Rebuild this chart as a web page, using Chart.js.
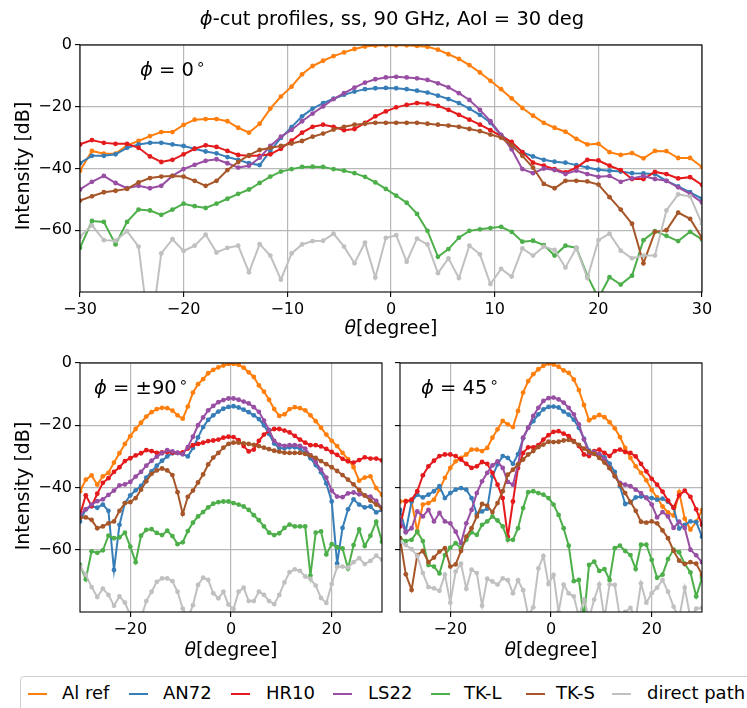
<!DOCTYPE html>
<html>
<head>
<meta charset="utf-8">
<script src="https://cdn.jsdelivr.net/npm/chart.js@4"></script>
<style>
  body { margin: 0; background: #fff; font-family: 'DejaVu Sans', sans-serif; }
  #wrap { position: relative; width: 747px; height: 708px; overflow: hidden; }
  canvas { position: absolute; }
  .t { position: absolute; white-space: nowrap; color: #000; z-index: 5; line-height: 1; }
  .ylab { font-size: 19px; transform: translate(-50%, -50%) rotate(-90deg); }
  .xlab { font-size: 19px; transform: translate(-50%, -50%); }
  .note { font-size: 19.5px; transform: translateY(-50%); }
  sup { font-size: 15px; vertical-align: 7px; margin-left: 2px; }
  #legend { position: absolute; left: 20px; top: 676px; width: 760px; height: 60px;
            border: 1px solid #d0d0d0; border-radius: 4px; z-index: 5; }
  .lh { position: absolute; top: 16px; height: 2px; width: 19px; }
  .lt { position: absolute; top: 7px; font-size: 18px; line-height: 1; }
</style>
</head>
<body>
<div id="wrap">
  <canvas id="cTop" width="747" height="340" style="left:0;top:0"></canvas>
  <canvas id="c90" width="400" height="340" style="left:0;top:320px"></canvas>
  <canvas id="c45" width="357" height="340" style="left:390px;top:320px"></canvas>

  <div class="t" style="left:392px;top:9px;font-size:19.5px;transform:translateX(-50%)"><i>ϕ</i>-cut profiles, ss, 90 GHz, AoI = 30 deg</div>
  <div class="t ylab" style="left:22px;top:166px">Intensity [dB]</div>
  <div class="t ylab" style="left:22px;top:486px">Intensity [dB]</div>
  <div class="t xlab" style="left:391px;top:327px"><i>θ</i>[degree]</div>
  <div class="t xlab" style="left:231px;top:649px"><i>θ</i>[degree]</div>
  <div class="t xlab" style="left:551px;top:649px"><i>θ</i>[degree]</div>
  <div class="t note" style="left:140px;top:68px"><i>ϕ</i> = 0<sup>∘</sup></div>
  <div class="t note" style="left:94px;top:386px"><i>ϕ</i> = ±90<sup>∘</sup></div>
  <div class="t note" style="left:421px;top:386px"><i>ϕ</i> = 45<sup>∘</sup></div>

  <div id="legend"></div>
</div>
<script>
// scan angles (degree)
const theta = [-30.00, -28.85, -27.70, -26.57, -25.46, -24.35, -23.25, -22.16, -21.08, -20.01,
  -18.94, -17.88, -16.83, -15.78, -14.74, -13.70, -12.67, -11.64, -10.62, -9.59,
  -8.58, -7.56, -6.55, -5.54, -4.53, -3.52, -2.51, -1.51, -0.50, 0.50,
  1.51, 2.51, 3.52, 4.53, 5.54, 6.55, 7.56, 8.58, 9.59, 10.62,
  11.64, 12.67, 13.70, 14.74, 15.78, 16.83, 17.88, 18.94, 20.01, 21.08,
  22.16, 23.25, 24.35, 25.46, 26.57, 27.70, 28.85, 30.00];

const xTicksTop = [-30, -20, -10, 0, 10, 20, 30];
const xTicksBottom = [-20, 0, 20];
const yTicks = [-60, -40, -20, 0];

const seriesNames = ['Al ref', 'AN72', 'HR10', 'LS22', 'TK-L', 'TK-S', 'direct path'];
const seriesColors = ['#ff7f0e', '#377eb8', '#e41a1c', '#984ea3', '#4daf4a', '#a65628', '#c0c0c0'];

// phi = 0
const alRef_0 = [-40.7, -34.3, -35.2, -35.2, -32.5, -31.1, -29.5, -28.2, -28.2, -25.9,
  -24.2, -24.0, -24.0, -24.7, -26.8, -28.4, -25.5, -20.6, -16.7, -13.5,
  -9.5, -6.8, -5.1, -3.6, -2.4, -1.3, -0.5, -0.2, -0.1, -0.1,
  -0.1, -0.3, -0.6, -1.5, -3.0, -4.5, -6.5, -8.9, -11.6, -14.3,
  -17.3, -20.4, -22.9, -25.2, -26.8, -28.1, -30.4, -32.2, -32.0, -34.7,
  -35.6, -35.0, -36.7, -34.3, -34.4, -36.6, -36.6, -39.5];
const an72_0 = [-38.3, -35.9, -35.9, -35.4, -33.3, -32.2, -31.7, -31.7, -32.2, -32.7,
  -33.6, -34.5, -35.1, -36.3, -37.2, -38.3, -38.9, -34.3, -30.1, -26.6,
  -23.1, -20.6, -18.8, -17.4, -16.1, -15.1, -14.3, -14.0, -13.9, -14.0,
  -14.3, -14.8, -15.4, -16.4, -17.5, -18.8, -20.6, -22.6, -25.2, -29.2,
  -31.7, -34.7, -36.1, -37.2, -37.8, -38.1, -38.9, -39.7, -40.4, -40.7,
  -41.0, -41.5, -41.6, -41.8, -44.0, -45.8, -47.7, -49.8];
const hr10_0 = [-32.2, -30.8, -31.7, -32.0, -32.0, -33.3, -36.1, -37.9, -37.2, -35.4,
  -33.6, -32.5, -33.0, -34.3, -35.6, -35.9, -35.9, -35.4, -33.6, -31.0,
  -28.4, -26.5, -25.8, -26.5, -27.6, -27.2, -25.2, -23.1, -21.5, -20.2,
  -19.4, -18.8, -19.0, -19.7, -21.0, -22.6, -24.2, -25.8, -27.6, -29.5,
  -31.4, -34.7, -38.1, -39.1, -40.2, -41.3, -39.7, -37.2, -37.4, -39.1,
  -40.5, -43.4, -43.4, -41.1, -41.8, -43.2, -42.8, -45.3];
const ls22_0 = [-46.8, -44.3, -42.4, -44.7, -46.4, -45.6, -46.4, -45.6, -42.4, -40.2,
  -38.8, -37.5, -37.0, -38.3, -39.7, -39.1, -36.5, -32.7, -29.7, -27.5,
  -24.7, -22.2, -19.9, -17.5, -15.6, -13.8, -12.2, -11.1, -10.5, -10.3,
  -10.5, -10.8, -11.3, -12.4, -13.7, -15.6, -17.8, -21.0, -24.7, -29.1,
  -33.8, -40.2, -41.5, -40.0, -40.5, -41.8, -40.7, -41.8, -42.7, -42.4,
  -44.3, -43.2, -42.4, -43.4, -44.0, -46.1, -48.2, -51.0];
const tkL_0 = [-65.7, -57.0, -57.3, -64.6, -57.3, -53.3, -53.6, -55.0, -53.3, -51.4,
  -52.2, -52.8, -51.4, -49.8, -48.2, -46.8, -44.7, -42.6, -41.0, -40.2,
  -39.5, -39.4, -39.5, -40.2, -40.7, -41.5, -42.7, -44.5, -46.6, -48.8,
  -51.1, -54.7, -60.2, -68.6, -66.1, -62.4, -60.2, -59.7, -59.3, -58.9,
  -60.5, -63.7, -63.4, -64.8, -68.2, -65.0, -65.7, -74.7, -82.0, -75.2,
  -77.6, -74.7, -63.2, -60.3, -61.8, -63.5, -60.5, -63.0];
const tkS_0 = [-50.4, -49.0, -47.7, -47.2, -46.6, -44.5, -43.1, -42.6, -42.4, -42.6,
  -44.0, -45.6, -44.0, -40.5, -37.9, -35.7, -34.0, -33.3, -32.7, -31.9,
  -31.1, -29.7, -28.7, -27.4, -26.5, -25.8, -25.5, -25.2, -25.2, -25.2,
  -25.2, -25.2, -25.5, -25.8, -26.1, -26.5, -27.2, -27.9, -29.0, -30.0,
  -32.5, -35.9, -39.7, -45.0, -46.4, -44.0, -44.0, -44.2, -45.2, -49.3,
  -53.3, -57.9, -70.7, -60.5, -60.0, -54.3, -56.3, -62.5];
const direct_0 = [-62.1, -58.4, -63.2, -63.4, -60.3, -65.3, -95.0, -67.5, -62.9, -66.7,
  -65.0, -61.4, -67.2, -65.7, -65.0, -73.6, -64.5, -68.2, -76.0, -67.5,
  -64.6, -63.5, -63.4, -61.1, -65.3, -70.7, -64.0, -75.3, -62.5, -61.6,
  -70.2, -62.7, -64.6, -73.9, -69.1, -75.5, -65.0, -67.8, -77.4, -72.5,
  -75.0, -65.9, -68.2, -65.3, -66.4, -72.1, -65.7, -75.5, -63.2, -61.1,
  -66.6, -69.1, -68.2, -68.2, -53.6, -48.4, -49.0, -57.9];

// phi = +-90
const alRef_90 = [-41.2, -37.5, -36.1, -39.1, -36.4, -35.3, -32.0, -29.0, -26.0, -23.5,
  -21.2, -19.2, -17.2, -15.8, -14.8, -14.4, -14.5, -15.3, -16.8, -17.9,
  -14.0, -9.5, -6.8, -5.2, -3.3, -2.2, -1.4, -0.8, -0.3, -0.3,
  -0.6, -1.5, -3.0, -4.5, -7.2, -9.2, -11.8, -14.8, -17.0, -16.5,
  -14.8, -14.2, -14.5, -15.2, -16.8, -18.7, -20.8, -23.0, -25.0, -26.7,
  -28.9, -30.9, -33.5, -37.8, -36.8, -36.4, -40.2, -42.3];
const an72_90 = [-50.9, -47.0, -46.0, -46.5, -45.5, -47.5, -66.5, -52.0, -45.0, -42.5,
  -40.9, -39.5, -36.8, -34.8, -33.0, -31.4, -30.0, -29.0, -28.9, -29.3,
  -30.0, -27.3, -23.9, -20.6, -18.3, -16.8, -15.6, -14.7, -14.1, -13.9,
  -14.3, -15.0, -15.8, -16.8, -18.0, -20.0, -22.8, -25.9, -27.3, -27.4,
  -27.1, -27.1, -27.5, -28.9, -30.6, -32.8, -35.1, -38.7, -44.5, -64.4,
  -53.0, -47.0, -43.8, -45.5, -46.4, -46.1, -48.0, -47.2];
const hr10_90 = [-48.8, -42.5, -46.0, -42.0, -38.5, -37.0, -35.0, -33.5, -31.5, -30.6,
  -29.7, -29.0, -28.0, -28.3, -28.9, -28.7, -28.6, -28.8, -28.9, -28.7,
  -27.5, -26.4, -26.0, -25.6, -25.1, -24.9, -24.6, -24.0, -23.7, -23.8,
  -24.8, -26.7, -28.4, -27.8, -25.0, -23.0, -21.8, -21.2, -21.2, -21.7,
  -22.3, -23.4, -24.6, -25.6, -26.4, -26.4, -26.8, -27.6, -28.6, -29.5,
  -30.8, -31.6, -32.0, -31.2, -30.3, -30.7, -30.7, -31.3];
const ls22_90 = [-48.8, -47.0, -45.5, -44.4, -43.8, -42.4, -41.0, -39.3, -39.0, -38.2,
  -36.5, -35.0, -33.0, -31.4, -30.1, -29.0, -28.0, -28.4, -28.9, -29.3,
  -27.0, -23.7, -20.0, -17.5, -15.2, -13.8, -12.6, -11.9, -11.4, -11.4,
  -11.8, -12.4, -13.0, -14.2, -15.7, -18.5, -21.5, -25.0, -26.3, -26.6,
  -26.4, -26.4, -26.6, -27.5, -29.7, -31.8, -34.3, -36.8, -41.0, -42.9,
  -43.1, -41.9, -41.6, -42.2, -42.5, -42.9, -44.3, -46.6];
const tkL_90 = [-64.9, -69.5, -60.5, -61.0, -60.2, -55.5, -56.3, -56.0, -54.5, -59.0,
  -64.0, -55.5, -53.6, -53.4, -54.6, -55.3, -53.9, -55.6, -58.2, -57.6,
  -54.0, -51.3, -49.3, -47.9, -46.4, -45.2, -44.7, -44.5, -44.5, -45.0,
  -45.5, -46.1, -47.2, -48.9, -50.5, -52.5, -54.5, -55.3, -54.7, -53.0,
  -51.9, -52.5, -52.5, -52.5, -68.3, -54.5, -54.1, -61.5, -58.2, -59.2,
  -59.6, -66.0, -58.5, -53.5, -58.8, -55.5, -51.0, -57.4];
const tkS_90 = [-49.8, -49.6, -50.4, -53.1, -52.5, -51.5, -50.9, -47.5, -45.0, -44.7,
  -43.4, -40.7, -38.0, -35.6, -34.5, -33.9, -34.5, -36.0, -41.5, -48.5,
  -43.0, -41.0, -38.4, -35.8, -32.6, -30.4, -28.9, -27.2, -26.0, -25.6,
  -25.6, -25.8, -26.0, -26.3, -26.7, -27.2, -27.7, -28.2, -28.5, -28.8,
  -28.9, -28.9, -28.9, -29.2, -29.7, -30.5, -31.5, -32.5, -33.5, -34.7,
  -36.0, -37.5, -39.0, -40.8, -42.6, -44.2, -45.5, -46.8];
const direct_90 = [-65.4, -68.0, -72.0, -75.2, -72.5, -74.5, -78.0, -75.0, -77.0, -81.0,
  -84.0, -82.0, -76.5, -73.5, -70.3, -69.2, -69.2, -70.1, -73.5, -78.9,
  -82.0, -77.8, -71.3, -69.0, -69.7, -74.0, -75.6, -73.5, -77.6, -79.0,
  -73.5, -72.2, -76.5, -76.5, -73.5, -74.5, -76.5, -77.5, -74.5, -70.5,
  -67.2, -66.3, -66.8, -68.6, -69.4, -71.5, -75.5, -77.1, -71.0, -65.5,
  -65.4, -65.7, -64.0, -62.7, -64.6, -63.6, -61.9, -63.2];

// phi = 45
const alRef_45 = [-44.5, -44.3, -44.5, -54.0, -45.5, -45.0, -43.9, -40.7, -36.9, -33.7,
  -31.6, -30.5, -29.4, -27.8, -27.8, -28.3, -27.3, -24.0, -21.3, -18.6,
  -19.7, -20.6, -15.4, -9.5, -5.8, -3.6, -2.0, -0.9, -0.2, -0.5,
  -1.2, -2.4, -3.2, -5.3, -8.7, -13.5, -18.4, -17.5, -16.7, -17.4,
  -19.0, -21.0, -23.8, -27.3, -30.5, -33.2, -35.3, -37.7, -40.8, -43.2,
  -46.1, -48.0, -49.0, -41.5, -50.0, -53.5, -51.0, -47.3];
const an72_45 = [-47.2, -54.1, -44.5, -42.3, -43.2, -42.3, -41.2, -39.6, -43.4, -41.8,
  -40.7, -40.2, -40.7, -43.4, -48.5, -47.7, -46.8, -36.4, -32.6, -29.9,
  -30.5, -32.4, -29.3, -24.2, -20.8, -18.7, -16.5, -14.9, -14.1, -14.0,
  -14.3, -15.6, -16.6, -18.2, -20.8, -24.3, -28.2, -29.1, -29.4, -30.3,
  -32.3, -35.0, -39.6, -45.3, -44.8, -43.2, -42.9, -43.2, -43.4, -43.9,
  -43.6, -44.6, -46.5, -53.2, -52.0, -50.9, -51.1, -55.8];
const hr10_45 = [-52.5, -44.5, -43.9, -41.2, -36.1, -33.2, -31.4, -29.9, -29.4, -29.4,
  -29.9, -31.0, -32.4, -33.7, -33.2, -31.8, -32.4, -35.3, -39.1, -43.4,
  -55.8, -44.5, -33.7, -28.9, -27.1, -27.1, -26.4, -24.6, -23.2, -22.1,
  -21.9, -22.7, -23.5, -25.1, -26.7, -29.4, -29.9, -28.3, -27.8, -28.9,
  -29.9, -28.3, -27.8, -28.6, -28.9, -30.0, -32.4, -34.8, -37.2, -39.1,
  -41.3, -44.2, -46.5, -42.5, -41.0, -43.0, -47.0, -52.0];
const ls22_45 = [-50.4, -54.4, -53.1, -47.7, -49.3, -47.2, -50.9, -48.2, -50.9, -51.5,
  -54.2, -57.9, -51.5, -47.2, -41.8, -38.0, -35.3, -32.9, -31.6, -33.7,
  -38.2, -39.1, -32.7, -24.0, -20.8, -17.0, -14.4, -12.2, -11.3, -11.1,
  -11.7, -12.7, -14.4, -16.5, -19.7, -24.6, -28.9, -28.6, -29.4, -31.0,
  -33.7, -36.4, -38.5, -39.1, -39.6, -40.7, -41.8, -43.4, -45.5, -49.6,
  -47.9, -49.3, -53.0, -51.0, -53.0, -60.0, -61.8, -64.0];
const tkL_45 = [-56.3, -57.2, -56.8, -54.2, -57.2, -64.9, -65.4, -67.6, -61.7, -59.3,
  -57.9, -59.5, -56.8, -54.4, -55.2, -52.0, -50.9, -49.3, -50.6, -52.5,
  -56.8, -56.8, -53.1, -46.6, -41.5, -41.2, -41.8, -42.3, -43.4, -45.5,
  -48.8, -53.1, -58.7, -70.1, -69.7, -82.0, -64.9, -63.8, -66.8, -66.2,
  -69.7, -59.5, -58.7, -60.4, -61.7, -66.2, -58.4, -58.4, -63.3, -69.0,
  -68.0, -63.0, -60.0, -60.8, -64.5, -67.3, -75.0, -69.0];
const tkS_45 = [-56.3, -67.9, -72.9, -61.7, -60.4, -64.0, -62.5, -60.6, -59.5, -65.4,
  -64.7, -60.4, -55.8, -53.1, -49.3, -45.3, -45.8, -47.9, -45.0, -41.2,
  -35.9, -34.3, -32.6, -31.0, -29.4, -28.3, -27.0, -26.2, -25.3, -25.4,
  -25.3, -24.9, -24.7, -25.3, -26.3, -27.5, -28.5, -29.2, -30.5, -32.0,
  -33.8, -36.3, -39.1, -41.8, -44.6, -47.5, -51.0, -51.3, -50.9, -51.5,
  -53.8, -56.3, -60.3, -63.5, -64.6, -64.0, -64.5, -68.0];
const direct_45 = [-57.4, -58.5, -59.8, -62.0, -67.5, -72.0, -72.4, -73.2, -68.0, -77.0,
  -67.0, -64.5, -72.5, -66.4, -67.5, -78.0, -69.3, -70.2, -71.2, -69.2,
  -69.8, -74.0, -69.8, -73.0, -81.0, -78.5, -66.0, -62.0, -71.0, -68.1,
  -80.0, -71.2, -74.0, -75.0, -81.5, -76.0, -82.0, -76.0, -71.1, -82.0,
  -71.1, -71.3, -82.0, -80.0, -78.7, -82.0, -70.8, -77.0, -74.0, -72.2,
  -69.7, -73.5, -78.3, -82.0, -72.2, -82.0, -78.9, -78.7];

const FONT = "'DejaVu Sans', sans-serif";
const minus = v => v < 0 ? '\u2212' + Math.abs(v) : String(v);

// black box around the axes, like matplotlib spines
const framePlugin = {
  id: 'frame',
  afterDatasetsDraw(chart) {
    const { ctx, chartArea: a } = chart;
    ctx.save();
    ctx.strokeStyle = '#000';
    ctx.lineWidth = 1.1;
    ctx.strokeRect(a.left, a.top, a.right - a.left, a.bottom - a.top);
    ctx.restore();
  }
};

function makePlot(id, cut, xTicks, yAxisWidth, padding, showYLabels) {
  const datasets = seriesNames.map((name, i) => ({
    label: name,
    data: theta.map((t, j) => ({ x: t, y: cut[i][j] })),
    borderColor: seriesColors[i],
    backgroundColor: seriesColors[i],
    borderWidth: 2,
    pointRadius: 2.4,
    pointBorderWidth: 0,
    pointHoverRadius: 0,
    tension: 0,
    clip: 0,
    order: seriesNames.length - 1 - i
  }));
  const grid = { color: '#b8b8b8', lineWidth: 1.2, tickColor: '#000', tickLength: 5, tickWidth: 1.1 };
  new Chart(document.getElementById(id), {
    type: 'line',
    data: { datasets },
    plugins: [framePlugin],
    options: {
      responsive: false,
      animation: false,
      devicePixelRatio: 1,
      events: [],
      layout: { padding },
      plugins: { legend: { display: false }, tooltip: { enabled: false } },
      scales: {
        x: {
          type: 'linear', min: -30, max: 30,
          afterBuildTicks: s => { s.ticks = xTicks.map(v => ({ value: v })); },
          afterFit: s => { s.height = 48; },
          grid, border: { display: false },
          ticks: { color: '#000', font: { family: FONT, size: 16 }, padding: 3,
                   maxRotation: 0, autoSkip: false, callback: v => minus(v) }
        },
        y: {
          type: 'linear', min: -80, max: 0,
          afterBuildTicks: s => { s.ticks = yTicks.map(v => ({ value: v })); },
          afterFit: s => { s.width = yAxisWidth; },
          grid, border: { display: false },
          ticks: { color: '#000', font: { family: FONT, size: 16 }, padding: 3,
                   autoSkip: false, callback: v => showYLabels ? minus(v) : '' }
        }
      }
    }
  });
}

makePlot('cTop', [alRef_0, an72_0, hr10_0, ls22_0, tkL_0, tkS_0, direct_0],
  xTicksTop, 80, { top: 45, right: 45, left: 0, bottom: 0 }, true);
makePlot('c90', [alRef_90, an72_90, hr10_90, ls22_90, tkL_90, tkS_90, direct_90],
  xTicksBottom, 80, { top: 43, right: 18, left: 0, bottom: 0 }, true);
makePlot('c45', [alRef_45, an72_45, hr10_45, ls22_45, tkL_45, tkS_45, direct_45],
  xTicksBottom, 10, { top: 43, right: 45, left: 0, bottom: 0 }, false);

// legend along the bottom
const legendLines = [7, 108, 210, 312, 410, 505, 591];
const legendTexts = [41, 142, 245, 347, 443, 535, 626];
const legend = document.getElementById('legend');
seriesNames.forEach((name, i) => {
  const h = document.createElement('div');
  h.className = 'lh';
  h.style.left = legendLines[i] + 'px';
  h.style.background = seriesColors[i];
  legend.appendChild(h);
  const t = document.createElement('div');
  t.className = 'lt';
  t.style.left = legendTexts[i] + 'px';
  t.textContent = name;
  legend.appendChild(t);
});
</script>
</body>
</html>
